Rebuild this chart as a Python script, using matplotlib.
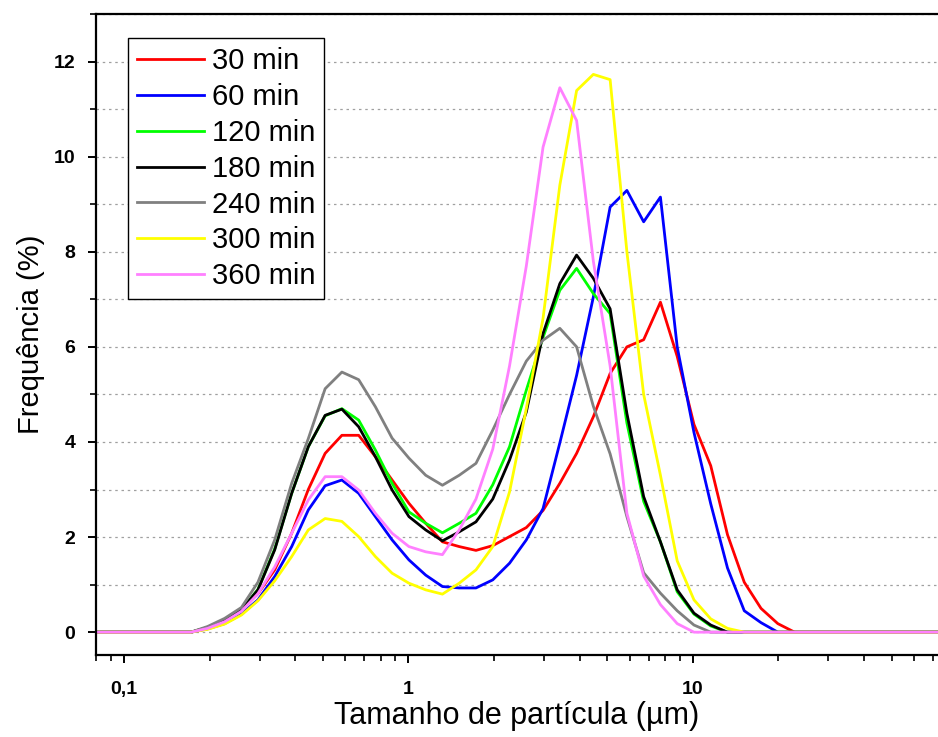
import numpy as np
import matplotlib.pyplot as plt
from matplotlib.ticker import FixedLocator, FixedFormatter, LogLocator, NullFormatter, MultipleLocator

plt.rcParams['font.family'] = ['Liberation Sans', 'DejaVu Sans']

# classes de tamanho (um) com valores nao nulos
tamanho = [0.172, 0.197, 0.226, 0.259, 0.296, 0.339, 0.389, 0.445, 0.510, 0.584,
           0.669, 0.766, 0.877, 1.005, 1.151, 1.318, 1.510, 1.729, 1.981, 2.269,
           2.599, 2.976, 3.409, 3.905, 4.472, 5.122, 5.867, 6.720, 7.697, 8.816,
           10.097, 11.565, 13.246, 15.172, 17.377, 19.904, 22.797]
# classes sem particulas nas pontas
tamanho_esq = [0.076, 0.087, 0.100, 0.115, 0.131, 0.150]
tamanho_dir = [26.111, 29.907, 34.255, 39.234, 44.938, 51.471, 58.953, 67.523, 77.34]

f30 = [0, 0.08, 0.22, 0.47, 0.81, 1.31, 2.08, 3.0, 3.76, 4.14,
       4.14, 3.69, 3.20, 2.71, 2.29, 1.90, 1.80, 1.72, 1.82, 2.01,
       2.2, 2.56, 3.13, 3.76, 4.53, 5.44, 6.0, 6.15, 6.94, 5.8,
       4.37, 3.5, 2.05, 1.05, 0.5, 0.18, 0]
f60 = [0, 0.07, 0.18, 0.38, 0.68, 1.17, 1.80, 2.57, 3.08, 3.20,
       2.92, 2.43, 1.94, 1.52, 1.20, 0.96, 0.93, 0.93, 1.10, 1.45,
       1.94, 2.6, 3.98, 5.4, 7.05, 8.94, 9.29, 8.63, 9.15, 6.0,
       4.2, 2.7, 1.35, 0.45, 0.2, 0, 0]
f120 = [0, 0.1, 0.26, 0.47, 0.9, 1.75, 2.92, 3.9, 4.55, 4.70,
        4.46, 3.83, 3.13, 2.53, 2.29, 2.09, 2.29, 2.5, 3.1, 3.90,
        5.09, 6.2, 7.19, 7.65, 7.12, 6.7, 4.4, 2.75, 1.9, 0.85,
        0.38, 0.13, 0, 0, 0, 0, 0]
f180 = [0, 0.1, 0.25, 0.47, 0.89, 1.73, 2.92, 3.90, 4.56, 4.69,
        4.32, 3.69, 2.99, 2.43, 2.15, 1.92, 2.11, 2.32, 2.8, 3.62,
        4.63, 6.28, 7.33, 7.93, 7.44, 6.8, 4.6, 2.85, 1.9, 0.89,
        0.4, 0.15, 0, 0, 0, 0, 0]
f240 = [0, 0.12, 0.29, 0.52, 1.05, 1.94, 3.13, 4.07, 5.12, 5.47,
        5.31, 4.74, 4.08, 3.66, 3.30, 3.09, 3.30, 3.55, 4.25, 5.0,
        5.7, 6.14, 6.39, 6.0, 4.75, 3.75, 2.43, 1.25, 0.82, 0.45,
        0.15, 0, 0, 0, 0, 0, 0]
f300 = [0, 0.06, 0.17, 0.36, 0.66, 1.08, 1.59, 2.15, 2.39, 2.33,
        2.01, 1.59, 1.24, 1.03, 0.89, 0.80, 1.03, 1.31, 1.80, 2.95,
        4.7, 6.6, 9.4, 11.39, 11.73, 11.62, 8.0, 5.0, 3.3, 1.5,
        0.68, 0.28, 0.08, 0, 0, 0, 0]
f360 = [0, 0.08, 0.22, 0.44, 0.81, 1.37, 2.08, 2.78, 3.27, 3.27,
        2.99, 2.50, 2.08, 1.80, 1.69, 1.63, 2.15, 2.8, 3.85, 5.6,
        7.7, 10.2, 11.45, 10.76, 7.8, 5.6, 2.5, 1.18, 0.58, 0.18,
        0, 0, 0, 0, 0, 0, 0]

series = [f30, f60, f120, f180, f240, f300, f360]
rotulos = ['30 min', '60 min', '120 min', '180 min', '240 min', '300 min', '360 min']
cores = ['#FF0000', '#0000FF', '#00FF00', '#000000', '#808080', '#FFFF00', '#FF80FF']

xticks = [0.1, 1, 10]
xtick_labels = ['0,1', '1', '10']
yticks = [0, 2, 4, 6, 8, 10, 12]

x = np.concatenate([tamanho_esq, tamanho, tamanho_dir])
zl = np.zeros(len(tamanho_esq))
zr = np.zeros(len(tamanho_dir))

fig = plt.figure(figsize=(9.38, 7.37), dpi=100)
ax = fig.add_axes([96/938, 1 - 655/737, 1 - 96/938, (655 - 14)/737])

for f, lab, c in zip(series, rotulos, cores):
    y = np.concatenate([zl, f, zr])
    ax.plot(x, y, '-', color=c, lw=2.0, label=lab)

ax.set_xscale('log')
ax.set_xlim(0.0798, 72.8)
ax.set_ylim(-0.48, 13.0)

ax.xaxis.set_major_locator(FixedLocator(xticks))
ax.xaxis.set_major_formatter(FixedFormatter(xtick_labels))
ax.xaxis.set_minor_locator(LogLocator(base=10, subs=np.arange(2, 10)))
ax.xaxis.set_minor_formatter(NullFormatter())
ax.set_yticks(yticks)
ax.yaxis.set_minor_locator(MultipleLocator(1))

ax.grid(True, which='both', axis='y', color='#a0a0a0', ls=(0, (2, 3)), lw=0.9)
ax.set_axisbelow(True)

for s in ['left', 'bottom', 'top']:
    ax.spines[s].set_linewidth(1.6)
ax.spines['right'].set_visible(False)

ax.tick_params(axis='both', which='major', direction='out', length=6, width=1.4,
               labelsize=14, pad=9)
ax.tick_params(axis='both', which='minor', direction='out', length=4, width=1.2)
ax.tick_params(axis='x', which='major', pad=13)
for t in ax.get_xticklabels() + ax.get_yticklabels():
    t.set_fontweight('bold')

ax.set_xlabel('Tamanho de partícula (µm)', fontsize=22, labelpad=2)
ax.set_ylabel('Frequência (%)', fontsize=21, labelpad=6)

leg = ax.legend(loc='upper left', bbox_to_anchor=(0.038, 0.962), borderaxespad=0,
                fontsize=21, frameon=True, fancybox=False, edgecolor='black',
                framealpha=1, handlelength=2.3, handletextpad=0.28,
                labelspacing=0.27, borderpad=0.3)
leg.get_frame().set_linewidth(1.0)

fig.savefig('out.png', dpi=100)
